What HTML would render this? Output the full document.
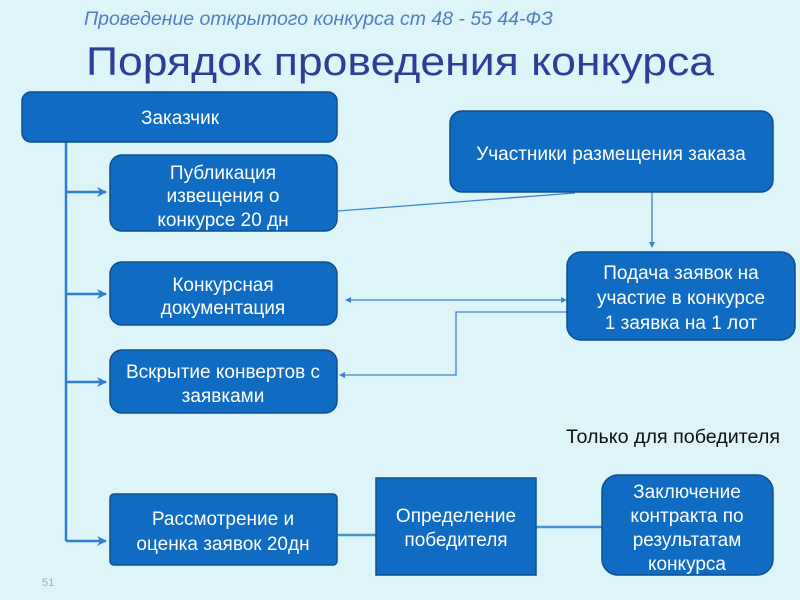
<!DOCTYPE html>
<html><head><meta charset="utf-8"><style>
html,body{margin:0;padding:0;background:#ddf4f9;}
svg{display:block;font-family:"Liberation Sans",sans-serif;}
</style></head><body>
<svg width="800" height="600" viewBox="0 0 800 600" xmlns="http://www.w3.org/2000/svg">
<defs>
<marker id="a" markerWidth="10" markerHeight="10" refX="9" refY="5" orient="auto" markerUnits="userSpaceOnUse"><path d="M0,0 L10,5 L0,10 L3,5 Z" fill="#2f7fd0"/></marker>
<marker id="s" markerWidth="6" markerHeight="6" refX="5" refY="3" orient="auto-start-reverse" markerUnits="userSpaceOnUse"><path d="M0,0 L6,3 L0,6 Z" fill="#3a86cc"/></marker>
</defs>
<rect width="800" height="600" fill="#ddf4f9"/>
<text x="84" y="25" font-size="19" font-style="italic" fill="#4f7fc0" textLength="469" lengthAdjust="spacingAndGlyphs">Проведение открытого конкурса   ст 48 - 55   44-ФЗ</text>
<text x="86" y="75" font-size="40" fill="#2b3f98" textLength="628" lengthAdjust="spacingAndGlyphs">Порядок проведения конкурса</text>

<g stroke="#2f7fd0" stroke-width="2.5" fill="none">
<path d="M66,142 V541"/>
<path d="M66,192 H106" marker-end="url(#a)"/>
<path d="M66,294 H106" marker-end="url(#a)"/>
<path d="M66,382 H106" marker-end="url(#a)"/>
<path d="M66,541 H106" marker-end="url(#a)"/>
</g>
<g stroke="#3a86cc" stroke-width="1.3" fill="none">
<path d="M338,211 L575,193"/>
<path d="M652,192 V247" marker-end="url(#s)"/>
<path d="M346,300 H566" marker-start="url(#s)" marker-end="url(#s)"/>
<path d="M567,312 H456 V375 H340" marker-end="url(#s)"/>
</g>
<g stroke="#4a92d0" stroke-width="2.5">
<path d="M338,535 H376"/>
<path d="M536,527 H602"/>
</g>

<g fill="#106cc3" stroke="#0d4f8e" stroke-width="1.5">
<rect x="22" y="92" width="315" height="50" rx="9"/>
<rect x="110" y="155" width="227" height="76" rx="12"/>
<rect x="110" y="262" width="227" height="63" rx="12"/>
<rect x="110" y="350" width="227" height="63" rx="12"/>
<rect x="450" y="111" width="323" height="81" rx="12"/>
<rect x="567" y="252" width="228" height="88" rx="14"/>
<rect x="110" y="494" width="227" height="71" rx="4"/>
<rect x="376" y="478" width="160" height="97" rx="0"/>
<rect x="602" y="475" width="171" height="100" rx="16"/>
</g>

<g fill="#fff" font-size="19" text-anchor="middle">
<text x="180" y="124">Заказчик</text>
<text x="223" y="179">Публикация</text>
<text x="223" y="202">извещения о</text>
<text x="223" y="226">конкурсе 20 дн</text>
<text x="223" y="291">Конкурсная</text>
<text x="223" y="314">документация</text>
<text x="223" y="378">Вскрытие конвертов с</text>
<text x="223" y="402">заявками</text>
<text x="611" y="160">Участники размещения заказа</text>
<text x="681" y="279">Подача заявок на</text>
<text x="681" y="304">участие в конкурсе</text>
<text x="681" y="329">1 заявка на 1 лот</text>
<text x="223" y="525">Рассмотрение  и</text>
<text x="223" y="550">оценка заявок 20дн</text>
<text x="456" y="522">Определение</text>
<text x="456" y="546">победителя</text>
<text x="687" y="498">Заключение</text>
<text x="687" y="522">контракта по</text>
<text x="687" y="546">результатам</text>
<text x="687" y="570">конкурса</text>
</g>
<text x="566" y="443" font-size="19" fill="#111" textLength="214" lengthAdjust="spacingAndGlyphs">Только для победителя</text>
<text x="42" y="586" font-size="11" fill="#aaa">51</text>
</svg>
</body></html>
